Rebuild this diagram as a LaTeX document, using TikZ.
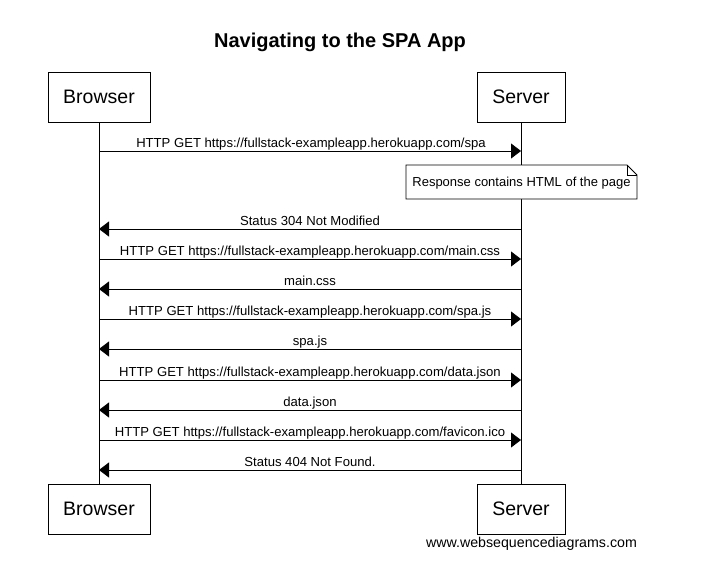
\documentclass[tikz,border=0pt]{standalone}
\usepackage{fontspec}
\setmainfont{Liberation Sans}
\usetikzlibrary{arrows.meta}
\begin{document}
\begin{tikzpicture}[x=1pt,y=-1pt,
  actor/.style={draw,line width=0.8pt,minimum width=102pt,minimum height=50pt,font=\fontsize{19.5}{22}\selectfont,inner sep=0pt},
  msg/.style={line width=0.8pt,-{Triangle[length=10pt,width=15pt]}},
  lbl/.style={font=\fontsize{13.1}{15}\selectfont,inner sep=0pt,anchor=base},
  life/.style={line width=0.8pt}]
\useasboundingbox (0,0) rectangle (717,565);
\node[font=\bfseries\fontsize{20}{24}\selectfont] (title) at (340,42) {Navigating to the SPA App};
\node[actor] (bt) at (99,97) {Browser};
\node[actor,minimum width=88pt] (st) at (521,97) {Server};
\node[actor] (bb) at (99,509) {Browser};
\node[actor,minimum width=88pt] (sb) at (521,509) {Server};
\draw[life] (bt.south) -- (bb.north);
\draw[life] (st.south) -- (sb.north);
% message anchor coordinates
\foreach \n/\y in {1/151,2/229,3/259,4/289,5/319,6/349,7/380,8/410,9/440,10/470}{
  \coordinate (b\n) at (99,\y);
  \coordinate (s\n) at (521,\y);
}
\draw[msg] (b1) -- (s1);
\node[lbl] (l1) at (311,147) {HTTP GET https://fullstack-exampleapp.herokuapp.com/spa};
% note
\coordinate (n1) at (406,165);
\coordinate (n2) at (627,165);
\coordinate (n3) at (637,175);
\coordinate (n4) at (637,199);
\coordinate (n5) at (406,199);
\draw[line width=0.8pt,fill=white] (n1) -- (n2) -- (n3) -- (n4) -- (n5) -- cycle;
\draw[line width=0.8pt] (n2) -- (627,175) -- (n3);
\node[lbl,font=\fontsize{13}{15}\selectfont] (note) at (521.5,186.5) {Response contains HTML of the page};
\draw[msg] (s2) -- (b2);
\node[lbl] (l2) at (310,225) {Status 304 Not Modified};
\draw[msg] (b3) -- (s3);
\node[lbl] (l3) at (310,255) {HTTP GET https://fullstack-exampleapp.herokuapp.com/main.css};
\draw[msg] (s4) -- (b4);
\node[lbl] (l4) at (310,285) {main.css};
\draw[msg] (b5) -- (s5);
\node[lbl] (l5) at (310,315) {HTTP GET https://fullstack-exampleapp.herokuapp.com/spa.js};
\draw[msg] (s6) -- (b6);
\node[lbl] (l6) at (310,345) {spa.js};
\draw[msg] (b7) -- (s7);
\node[lbl] (l7) at (310,376) {HTTP GET https://fullstack-exampleapp.herokuapp.com/data.json};
\draw[msg] (s8) -- (b8);
\node[lbl] (l8) at (310,406) {data.json};
\draw[msg] (b9) -- (s9);
\node[lbl] (l9) at (310,436) {HTTP GET https://fullstack-exampleapp.herokuapp.com/favicon.ico};
\draw[msg] (s10) -- (b10);
\node[lbl] (l10) at (310,466) {Status 404 Not Found.};
\node[font=\fontsize{14.2}{16}\selectfont,inner sep=0pt,anchor=base] (wm) at (531.5,547) {www.websequencediagrams.com};
\end{tikzpicture}
\end{document}
